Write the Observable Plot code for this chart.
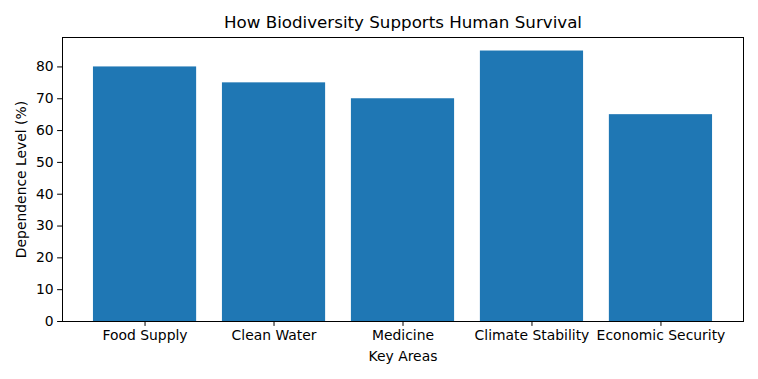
<!DOCTYPE html>
<html>
<head>
<meta charset="utf-8">
<script src="https://cdn.jsdelivr.net/npm/d3@7"></script>
<script src="https://cdn.jsdelivr.net/npm/@observablehq/plot@0.6"></script>
<style>
  html, body { margin: 0; padding: 0; background: #fff; }
  #chart svg { display: block; }
</style>
</head>
<body>
<div id="chart"></div>
<script>
// Key areas and how much human survival depends on each (%)
const areas = ["Food Supply", "Clean Water", "Medicine", "Climate Stability", "Economic Security"];
const dependence = [80, 75, 70, 85, 65];
const yTicks = [0, 10, 20, 30, 40, 50, 60, 70, 80];

const data = areas.map((area, i) => ({area, value: dependence[i]}));
const font = "DejaVu Sans, sans-serif";
const fs = 13.9;   // tick and axis label size
const tick = 4.9;  // tick length and padding

const chart = Plot.plot({
  width: 758,
  height: 379,
  marginLeft: 62,
  marginRight: 15,
  marginTop: 37,
  marginBottom: 58,
  style: {fontFamily: font, fontSize: fs + "px", color: "#000", background: "#fff"},
  x: {
    domain: areas,
    paddingInner: 0.2,
    paddingOuter: 0.24,
    round: false,
    label: null
  },
  y: {
    domain: [0, 89.25],
    label: null
  },
  marks: [
    Plot.barY(data, {x: "area", y: "value", fill: "#1f77b4"}),
    Plot.axisX({tickSize: tick, tickPadding: tick - 1, fontSize: fs, label: null, stroke: "#000"}),
    Plot.axisY({ticks: yTicks, tickSize: tick, tickPadding: tick - 1, fontSize: fs, label: null, stroke: "#000"}),
    Plot.frame({stroke: "#000", strokeWidth: 1}),
    Plot.text(["How Biodiversity Supports Human Survival"], {
      frameAnchor: "top", lineAnchor: "middle", dy: -15, fontSize: 16.7, fill: "#000"
    }),
    Plot.text(["Key Areas"], {
      frameAnchor: "bottom", lineAnchor: "middle", dy: 35, fontSize: fs, fill: "#000"
    }),
    Plot.text(["Dependence Level (%)"], {
      frameAnchor: "left", textAnchor: "middle", lineAnchor: "middle",
      dx: -41, rotate: -90, fontSize: fs, fill: "#000"
    })
  ]
});

document.getElementById("chart").appendChild(chart);
</script>
</body>
</html>
